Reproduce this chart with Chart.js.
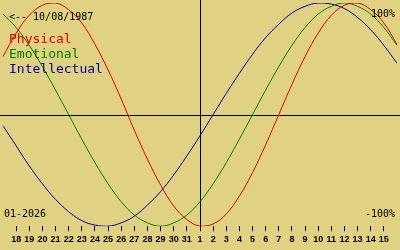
<!DOCTYPE html>
<html>
<head>
<meta charset="utf-8">
<script src="https://cdn.jsdelivr.net/npm/chart.js@4"></script>
<style>
  html, body { margin: 0; padding: 0; background: #e0d282; }
  #wrap { width: 400px; height: 250px; position: relative; }
</style>
</head>
<body>
<div id="wrap"><canvas id="bio"></canvas></div>
<script>
// days shown, Dec 17 .. Jan 16 (first and last are off the ends)
const days = ['17','18','19','20','21','22','23','24','25','26','27','28','29','30','31',
              '1','2','3','4','5','6','7','8','9','10','11','12','13','14','15','16']

const physical = [52, 73, 89, 98, 100, 94, 82, 63, 40, 14, -14, -40, -63, -82, -94,
                  -100, -98, -89, -73, -52, -27, 0, 27, 52, 73, 89, 98, 100, 94, 82, 63]
const emotional = [90, 78, 62, 43, 22, 0, -22, -43, -62, -78, -90, -97, -100, -97, -90,
                   -78, -62, -43, -22, 0, 22, 43, 62, 78, 90, 97, 100, 97, 90, 78, 62]
const intellectual = [-10, -28, -46, -62, -76, -87, -95, -99, -100, -97, -91, -81, -69, -54, -37,
                      -19, 0, 19, 37, 54, 69, 81, 91, 97, 100, 99, 95, 87, 76, 62, 46]

const todayLabel = '1'
const birthText = '<-- 10/08/1987'
const monthText = '01-2026'

const RED = '#dc0000'
const GREEN = '#008000'
const BLUE = '#000098'

const isEnd = i => i === 0 || i === days.length - 1

// crosshair + texts
const overlay = {
    id: 'overlay',
    beforeDatasetsDraw(chart) {
        const { ctx, chartArea, scales } = chart
        const x0 = scales.x.getPixelForValue(days.indexOf(todayLabel))
        const y0 = scales.y.getPixelForValue(0)
        ctx.save()
        ctx.strokeStyle = '#000'
        ctx.lineWidth = 1
        ctx.beginPath()
        ctx.moveTo(Math.round(x0) + 0.5, 0)
        ctx.lineTo(Math.round(x0) + 0.5, chartArea.bottom)
        ctx.moveTo(0, Math.round(y0) + 0.5)
        ctx.lineTo(chart.width, Math.round(y0) + 0.5)
        ctx.stroke()
        ctx.restore()
    },
    afterDatasetsDraw(chart) {
        const { ctx } = chart
        ctx.save()
        ctx.textBaseline = 'alphabetic'
        ctx.fillStyle = '#000'
        ctx.font = '10px "DejaVu Sans Mono"'
        ctx.textAlign = 'left'
        ctx.fillText(birthText, 9, 20)
        ctx.fillText(monthText, 4, 217)
        ctx.textAlign = 'right'
        ctx.fillText('100%', 395, 17)
        ctx.fillText('-100%', 395, 217)
        ctx.textAlign = 'left'
        ctx.font = '13px "DejaVu Sans Mono"'
        ctx.fillStyle = RED
        ctx.fillText('Physical', 9, 43)
        ctx.fillStyle = GREEN
        ctx.fillText('Emotional', 9, 58)
        ctx.fillStyle = BLUE
        ctx.fillText('Intellectual', 9, 73)
        ctx.restore()
    }
}

new Chart(document.getElementById('bio'), {
    type: 'line',
    data: {
        labels: days,
        datasets: [
            { data: physical, borderColor: RED },
            { data: emotional, borderColor: GREEN },
            { data: intellectual, borderColor: BLUE }
        ]
    },
    options: {
        responsive: true,
        maintainAspectRatio: false,
        animation: false,
        layout: { padding: { top: 3, left: 0, right: 0, bottom: 2 } },
        elements: {
            line: { borderWidth: 1, tension: 0.4, fill: false },
            point: { radius: 0 }
        },
        plugins: { legend: { display: false }, tooltip: { enabled: false } },
        scales: {
            x: {
                offset: false,
                border: { display: false },
                grid: {
                    drawOnChartArea: false,
                    drawTicks: true,
                    tickLength: 5,
                    lineWidth: 1,
                    color: ctx => isEnd(ctx.index) ? 'rgba(0,0,0,0)' : '#000'
                },
                ticks: {
                    autoSkip: false,
                    maxRotation: 0,
                    padding: 3,
                    color: '#000',
                    font: { family: 'Liberation Sans', size: 9, weight: 'bold' },
                    callback: (v, i) => isEnd(i) ? '' : days[i]
                }
            },
            y: { display: false, min: -100, max: 100 }
        }
    },
    plugins: [overlay]
})
</script>
</body>
</html>
